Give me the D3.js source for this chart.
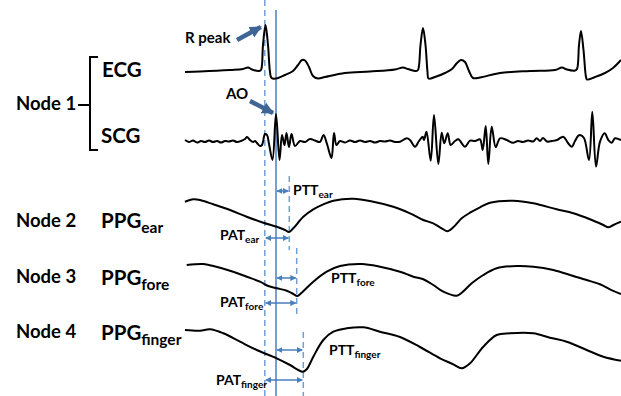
<!DOCTYPE html>
<html><head><meta charset="utf-8">
<script src="https://cdn.jsdelivr.net/npm/d3@7/dist/d3.min.js"></script>
<style>
html,body{margin:0;padding:0;background:#fff;}
svg{display:block;font-family:Lato,"Open Sans",sans-serif;}
</style></head>
<body><svg id="c" width="621" height="396"></svg>
<script>
// time in samples, amplitude in arbitrary units relative to each trace's baseline
const ecg = [[0,-2],[15,-1.5],[45,0],[58,1],[63,2.5],[67,0.5],[74,-1],[76,0],[78,25],[80.5,45],[83,25],[85,-2],[86.5,-8],[91,-8.5],[100,-5],[108,-1],[113,5],[117,10],[120,9.5],[124,3],[128,-6],[133,-8.5],[140,-7],[160,-3],[185,-1.5],[210,0.5],[218,2.5],[223,1],[231,-1],[233,0],[235.5,25],[238,42],[240.5,25],[242.5,-2],[243.5,-8.5],[250,-7],[260,-3],[267,1],[272,7],[276,10],[280,8],[284,-1],[288,-8],[295,-7.5],[315,-3],[345,-1],[370,0],[377,2.5],[382,0.5],[390,-0.5],[392,1],[394,25],[396,39],[398.5,20],[401,-7],[402,-9.5],[410,-7],[420,-3],[428,2],[436,10]];
const scg = [[0,1],[4,-1],[8,0.5],[12,-1.5],[16,0],[20,-1],[24,0.5],[28,-1],[32,0],[36,-1.5],[40,0],[44,-0.5],[48,0.5],[52,-1],[56,0],[60,2],[62,4],[65,1],[68,-1],[70,0],[72,-2],[75,-5],[77,-4],[80,7],[82,6],[84,-3],[87.5,-19],[91,27],[94.5,-19],[97,6],[99.5,-4],[101.5,8],[104,-6],[106.5,7],[110,-5],[115,0],[120,-1],[125,2],[130,0.5],[135,-1],[138.5,6],[142,-3],[146.5,-17],[149,8],[151.5,-4],[155,0],[160,-1.5],[165,0.5],[170,-1],[175,0.5],[180,-1],[185,0],[190,-1.5],[195,0],[200,-0.5],[205,0.5],[210,-1],[215,-0.7],[221.7,2.7],[225,1],[230,-5.7],[234,0],[237.7,4.3],[239,1],[241.5,9.3],[245.7,-19.7],[249,26],[253.3,-23],[256.7,8.3],[259.3,-2.3],[262.7,7.7],[265.7,-4],[270,0],[273.3,1.7],[280,-5.7],[285,0.3],[290,0],[295,1.7],[297.7,-9],[300.7,15],[303.3,-23],[306.7,14.3],[310.7,-6.3],[315,2.7],[321.7,1],[328,-1.7],[333,0],[338,-1],[343,0.5],[348,-0.5],[351.7,2.7],[355,0],[358,3],[362,-0.5],[367,0],[372,1],[378.3,4.3],[383,-2],[386.7,-5.7],[390,0],[393,5],[395,6],[399,3],[404,-19],[407.3,29.3],[411,-25.7],[415,-0.7],[419.7,7.7],[423.3,1],[426.7,-1.7],[430,2.7],[436,1]];
const ppgEar = [[0,13.3],[8.3,15.7],[15,15],[28.3,10.7],[45,5],[61.7,-1.7],[78.3,-7.7],[91.7,-11.7],[100,-15],[104,-17],[108.3,-13.3],[118.3,-1.7],[128.3,5.7],[138.3,10.7],[148.3,14.3],[168.3,16.3],[188.3,13.3],[208.3,8.3],[225,1.7],[238.3,-5],[248.3,-8.3],[256.7,-13.3],[262.7,-16.3],[268.3,-12.3],[276.7,-3.3],[285,2.3],[295,7.7],[305,12.3],[328.3,14.3],[348.3,11.7],[371.7,5.7],[388.3,1.7],[405,-4.3],[418.3,-10],[423.3,-12.3],[428.3,-10],[436,-6.7]];
const ppgFore = [[1.7,15],[18.3,16],[28.3,14],[45,9.3],[61.7,3.3],[75,-1.7],[83.3,-6],[91.7,-8.3],[101.7,-10.7],[108.3,-14],[112.3,-16],[116.7,-12.7],[128.3,-1.7],[141.7,8.3],[155,14],[176.7,16],[195,13.3],[215,8.3],[228.3,3.3],[238.3,0.7],[248.3,-5],[258.3,-11.7],[271.7,-15.7],[276.7,-12.7],[286.7,-3.3],[298.3,5],[311.7,11.7],[331.7,14],[348.3,13.3],[368.3,10],[388.3,4],[401.7,0],[415,-4.3],[425,-9.3],[436,-14]];
const ppgFinger = [[0,20],[15,19.3],[25,20.7],[38.3,16.7],[55,8.3],[71.7,0],[91.7,-8.3],[105,-15],[113.3,-20],[117.7,-21.7],[121.7,-19.3],[128.3,-6.7],[138.3,10],[148.3,18.3],[161.7,21.7],[178.3,22.7],[195,18.3],[215,13],[235,3],[255,-8.3],[268.3,-14.3],[276.7,-18.3],[285,-13.3],[298.3,3.3],[311.7,15],[325,16.7],[348.3,16.7],[365,12.3],[381.7,8.3],[401.7,0],[418.3,-6.7],[436,-10.7]];
// event times (samples)
const tRpeak = 79.8, tAO = 91, tFoot = {ear:104.3, fore:111.7, finger:118.3};

const svg = d3.select("#c");
const x = d3.scaleLinear().domain([0,436]).range([185,621]);
const mk = base => d3.scaleLinear().domain([-50,50]).range([base+50, base-50]);
const yE = mk(70), yS = mk(141), yEar = mk(215), yFore = mk(280), yFin = mk(350);
const traces = [[ecg,yE],[scg,yS],[ppgEar,yEar],[ppgFore,yFore],[ppgFinger,yFin]];

const BLUE = "#4a7ebb", DASH = "#6f9fd6", DARK = "#3f6596";
const defs = svg.append("defs");
function marker(id, color, w, h, orient){
  defs.append("marker").attr("id",id).attr("viewBox","0 0 10 10").attr("refX",9).attr("refY",5)
    .attr("markerWidth",w).attr("markerHeight",h).attr("markerUnits","userSpaceOnUse").attr("orient",orient)
    .append("path").attr("d","M0,0 L10,5 L0,10 Z").attr("fill",color);
}
marker("ah", BLUE, 6, 6, "auto-start-reverse");
marker("big", DARK, 12, 13, "auto");

// vertical reference lines
svg.append("line").attr("x1",x(tRpeak)).attr("x2",x(tRpeak)).attr("y1",0).attr("y2",396)
  .attr("stroke",DASH).attr("stroke-width",1.5).attr("stroke-dasharray","6,4");
svg.append("line").attr("x1",x(tAO)).attr("x2",x(tAO)).attr("y1",10).attr("y2",396)
  .attr("stroke",BLUE).attr("stroke-width",1.5);

const feet = [["ear",176,250,191,238],["fore",248,316,278,303],["finger",332,396,350,380]];
feet.forEach(([k,y1,y2,ptt,pat])=>{
  const fx = x(tFoot[k]);
  svg.append("line").attr("x1",fx).attr("x2",fx).attr("y1",y1).attr("y2",y2)
    .attr("stroke",DASH).attr("stroke-width",1.5).attr("stroke-dasharray","6,4");
  svg.append("line").attr("x1",x(tAO)+1).attr("x2",fx-1).attr("y1",ptt).attr("y2",ptt)
    .attr("stroke",BLUE).attr("stroke-width",1.5).attr("marker-start","url(#ah)").attr("marker-end","url(#ah)");
  svg.append("line").attr("x1",x(tRpeak)+1).attr("x2",fx-1).attr("y1",pat).attr("y2",pat)
    .attr("stroke",BLUE).attr("stroke-width",1.5).attr("marker-start","url(#ah)").attr("marker-end","url(#ah)");
});

// traces
const line = ys => d3.line().x(d=>x(d[0])).y(d=>ys(d[1])).curve(d3.curveCatmullRom.alpha(0.5));
traces.forEach(([d,ys])=>{
  svg.append("path").attr("d",line(ys)(d)).attr("fill","none").attr("stroke","#000")
    .attr("stroke-width",2).attr("stroke-linejoin","round");
});

// big annotation arrows
svg.append("line").attr("x1",237).attr("y1",40).attr("x2",x(tRpeak)-4).attr("y2",27)
  .attr("stroke",DARK).attr("stroke-width",4.5).attr("marker-end","url(#big)");
svg.append("line").attr("x1",250).attr("y1",101).attr("x2",x(tAO)-3).attr("y2",113)
  .attr("stroke",DARK).attr("stroke-width",4.5).attr("marker-end","url(#big)");

// text
function lab(tx,ty,main,sub,size,subSize,dy,weight){
  const t = svg.append("text").attr("x",tx).attr("y",ty).attr("font-size",size)
    .attr("font-weight",weight||"bold").attr("fill","#000").text(main);
  if(sub) t.append("tspan").attr("font-size",subSize).attr("dy",dy).text(sub);
  return t;
}
lab(185,43,"R peak",null,15);
lab(226,99,"AO",null,15);
lab(16,110,"Node 1",null,18.5);
lab(102,77,"ECG",null,20.5);
lab(101,143,"SCG",null,20.5);
lab(16,227,"Node 2",null,18.5);
lab(16,283,"Node 3",null,18.5);
lab(16,338,"Node 4",null,18.5);
lab(101,228,"PPG","ear",20.5,15.5,5);
lab(101,285,"PPG","fore",20.5,15.5,5);
lab(101,340,"PPG","finger",20.5,15.5,5);
lab(293,195,"PTT","ear",14,10,3);
lab(220,240,"PAT","ear",14,10,3);
lab(331,283,"PTT","fore",14,10,3);
lab(220,307,"PAT","fore",14,10,3);
lab(329,355,"PTT","finger",14,10,3);
lab(216,385,"PAT","finger",14,10,3);

// bracket
svg.append("path").attr("d","M98,57 L90,57 L90,150 L98,150 M78,105 L90,105")
  .attr("fill","none").attr("stroke","#000").attr("stroke-width",2);
</script></body></html>
